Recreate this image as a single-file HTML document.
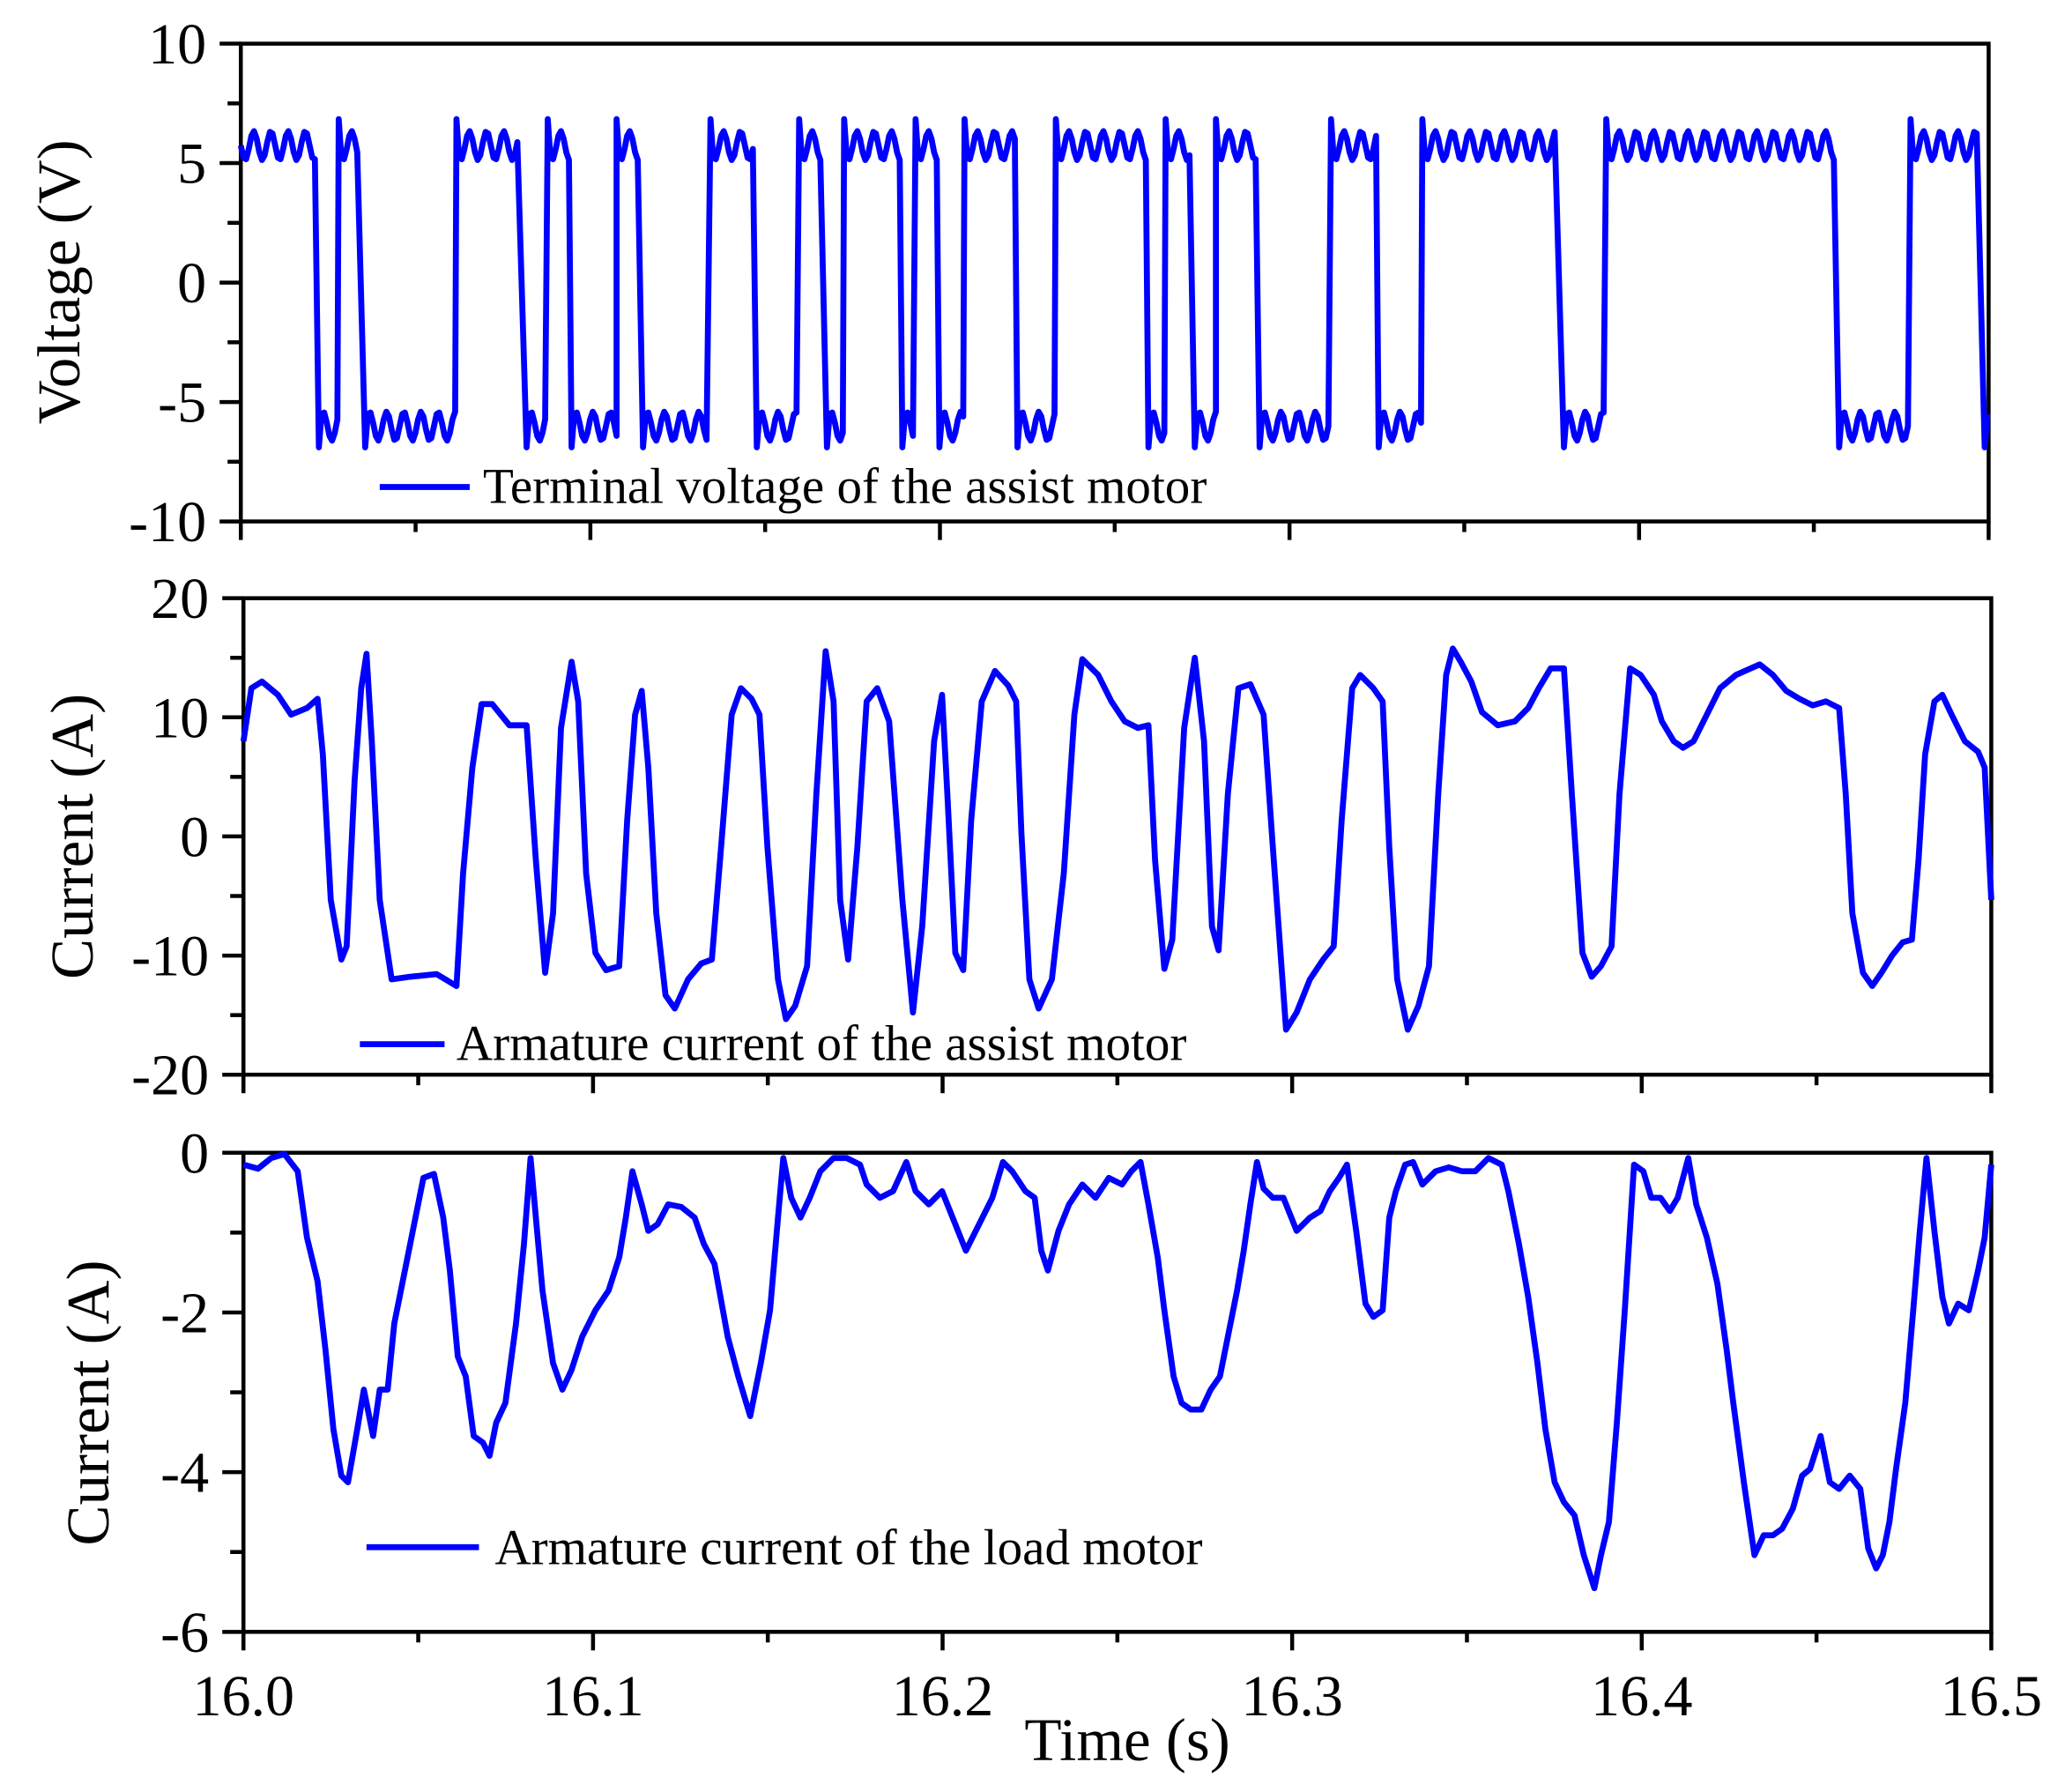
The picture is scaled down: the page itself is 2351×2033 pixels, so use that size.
<!DOCTYPE html>
<html><head><meta charset="utf-8"><style>
html,body{margin:0;padding:0;background:#fff;}
svg{display:block;}
text{font-family:"Liberation Serif",serif;fill:#000;}
</style></head><body>
<svg id="s" width="2351" height="2033" viewBox="0 0 1566 1354" preserveAspectRatio="none" xmlns="http://www.w3.org/2000/svg">
<g id="axes" stroke="#000" stroke-width="3" fill="none"></g>
<g id="lbl" font-size="44"></g>
<g fill="none" stroke="#0000ff" stroke-width="4.5" stroke-linejoin="round">
<path id="v"/>
<polyline id="c2" points="184,560 190,520 198,515 210,525 220,540 232,535 240,528 244,570 250,680 258,725 262,715 268,590 273,520 277,494 281,560 287,680 296,740 310,738 330,736 345,745 350,660 357,580 364,532 372,532 385,548 398,548 405,650 412,735 418,690 424,550 432,500 437,530 443,660 450,720 458,733 468,730 474,620 480,540 485,522 490,580 496,690 503,752 510,762 520,740 530,728 538,725 545,640 553,540 560,520 568,528 574,540 580,640 588,740 594,770 601,760 610,730 617,600 624,492 630,530 635,680 641,725 648,640 655,530 663,520 672,545 682,680 690,765 697,700 706,560 712,525 716,600 722,720 728,733 734,620 742,530 752,507 762,518 768,530 772,630 778,740 785,762 795,740 804,660 812,540 818,498 830,510 840,530 850,545 860,550 868,548 873,650 880,732 886,710 895,550 903,497 910,560 916,700 921,718 928,600 936,520 945,517 955,540 962,640 972,778 980,765 990,740 1000,725 1008,715 1014,620 1022,520 1028,510 1038,520 1045,530 1050,640 1056,740 1064,778 1072,760 1080,730 1087,600 1093,510 1098,490 1104,500 1112,515 1120,538 1132,548 1145,545 1155,535 1163,520 1172,505 1182,505 1188,600 1196,720 1203,738 1210,730 1218,715 1224,600 1232,505 1240,510 1250,525 1256,545 1265,560 1272,565 1280,560 1290,540 1300,520 1312,510 1330,502 1340,510 1350,522 1360,528 1370,533 1380,530 1390,535 1395,600 1400,690 1408,735 1415,745 1422,735 1430,722 1438,712 1445,710 1450,650 1455,570 1462,530 1468,525 1475,540 1485,560 1495,568 1500,580 1505,680"/>
<polyline id="c3" points="184,880 195,883 205,875 215,872 225,885 232,935 240,968 246,1020 252,1080 258,1115 263,1120 270,1080 275,1050 282,1085 287,1050 293,1050 298,1000 306,960 313,925 320,890 328,887 335,920 340,960 346,1025 352,1040 358,1085 365,1090 370,1100 375,1075 382,1060 390,1000 396,940 401,875 405,920 410,975 418,1030 425,1050 432,1035 440,1010 450,990 460,975 468,950 473,920 478,885 485,910 490,930 497,925 505,910 515,912 525,920 532,940 540,955 550,1010 558,1040 567,1070 575,1030 582,990 588,920 592,875 598,905 605,920 612,905 620,885 630,875 640,875 650,880 655,895 665,905 675,900 685,878 692,900 702,910 712,900 720,920 730,945 740,925 750,905 758,878 765,885 775,900 782,905 787,945 792,960 800,930 808,910 818,895 828,905 838,890 848,895 855,885 862,878 868,910 875,950 880,990 887,1040 893,1060 900,1065 908,1065 915,1050 922,1040 928,1010 935,975 940,945 945,910 950,878 955,898 962,905 970,905 980,930 990,920 998,915 1005,900 1012,890 1018,880 1025,930 1032,985 1038,995 1045,990 1050,920 1055,900 1062,880 1068,878 1075,895 1085,885 1095,882 1105,885 1115,885 1125,875 1135,880 1140,900 1148,940 1155,980 1162,1030 1168,1080 1175,1120 1182,1135 1190,1145 1197,1175 1205,1200 1210,1175 1216,1150 1222,1075 1228,990 1235,880 1242,885 1248,905 1255,905 1262,915 1268,905 1276,875 1282,910 1290,935 1298,970 1305,1020 1310,1060 1318,1120 1326,1175 1333,1160 1340,1160 1347,1155 1355,1140 1362,1115 1368,1110 1376,1085 1383,1120 1390,1125 1398,1115 1406,1125 1412,1170 1418,1185 1423,1175 1428,1150 1433,1110 1440,1060 1446,990 1451,930 1456,875 1462,930 1468,980 1473,1000 1480,985 1488,990 1495,960 1500,935 1505,880"/>
<line x1="287" y1="368" x2="355" y2="368"/>
<line x1="272" y1="789" x2="336" y2="789"/>
<line x1="277" y1="1169" x2="362" y2="1169"/>
</g>
<g font-size="38">
<text x="365" y="380">Terminal voltage of the assist motor</text>
<text x="345" y="801">Armature current of the assist motor</text>
<text x="374" y="1182">Armature current of the load motor</text>
</g>
<g font-size="46" text-anchor="middle">
<text transform="translate(60,213) rotate(-90)">Voltage (V)</text>
<text transform="translate(70,632) rotate(-90)">Current (A)</text>
<text transform="translate(82,1060) rotate(-90)">Current (A)</text>
<text x="852" y="1330">Time (s)</text>
</g>
</svg>
<script>
var NS="http://www.w3.org/2000/svg";
var ax=document.getElementById("axes"),lb=document.getElementById("lbl");
function L(x1,y1,x2,y2){var l=document.createElementNS(NS,"line");l.setAttribute("x1",x1);l.setAttribute("y1",y1);l.setAttribute("x2",x2);l.setAttribute("y2",y2);ax.appendChild(l);}
function T(x,y,s,a){var t=document.createElementNS(NS,"text");t.setAttribute("x",x);t.setAttribute("y",y);t.setAttribute("text-anchor",a);t.textContent=s;lb.appendChild(t);}
function panel(x0,x1,y0,y1,vals,minor){
  var r=document.createElementNS(NS,"rect");r.setAttribute("x",x0);r.setAttribute("y",y0);r.setAttribute("width",x1-x0);r.setAttribute("height",y1-y0);ax.appendChild(r);
  var n=vals.length-1;
  for(var i=0;i<=n;i++){var y=y0+(y1-y0)*i/n;L(x0-16,y,x0,y);T(x0-26,y+15,vals[i],"end");
    if(i<n&&minor){var ym=y+(y1-y0)/n/2;L(x0-10,ym,x0,ym);}}
  for(var k=0;k<=10;k++){var x=x0+(x1-x0)*k/10;L(x,y1,x,y1+(k%2==0?14:8));}
}
panel(182,1503,33,394,["10","5","0","-5","-10"],true);
panel(184,1505,452,812,["20","10","0","-10","-20"],true);
panel(184,1505,871,1233,["0","-2","-4","-6"],true);
var xl=["16.0","16.1","16.2","16.3","16.4","16.5"];
for(var k=0;k<6;k++){var t=document.createElementNS(NS,"text");t.setAttribute("x",184+264.2*k);t.setAttribute("y",1296);t.setAttribute("text-anchor","middle");t.setAttribute("font-size","44");t.textContent=xl[k];lb.appendChild(t);}
var segs=[[182,238,1],[241,255,-1],[256,270,1],[276,345,-1],[345,392,1],[398,412,-1],[414,430,1],[432,466,-1],[466,483,1],[486,535,-1],[537,570,1],[572,603,-1],[604,620,1],[625,638,-1],[638,680,1],[682,690,-1],[692,708,1],[710,728,-1],[729,767,1],[769,797,-1],[798,866,1],[868,880,-1],[881,900,1],[903,919,-1],[919,950,1],[952,1005,-1],[1006,1040,1],[1042,1074,-1],[1075,1175,1],[1182,1213,-1],[1214,1387,1],[1390,1443,-1],[1444,1495,1],[1500,1503,-1]];
var d="";
segs.forEach(function(s,i){
  var base=s[2]>0?110:322;
  for(var x=s[0];x<=s[1];x+=2){
    var y=base+11*Math.sin((x-s[0])*2*Math.PI/13+(s[2]>0?0:Math.PI));
    if(x==s[0]&&i>0){y=s[2]>0?90:338;}
    d+=(d?"L":"M")+x+","+y.toFixed(1);
  }
});
document.getElementById("v").setAttribute("d",d);
</script>
</body></html>
